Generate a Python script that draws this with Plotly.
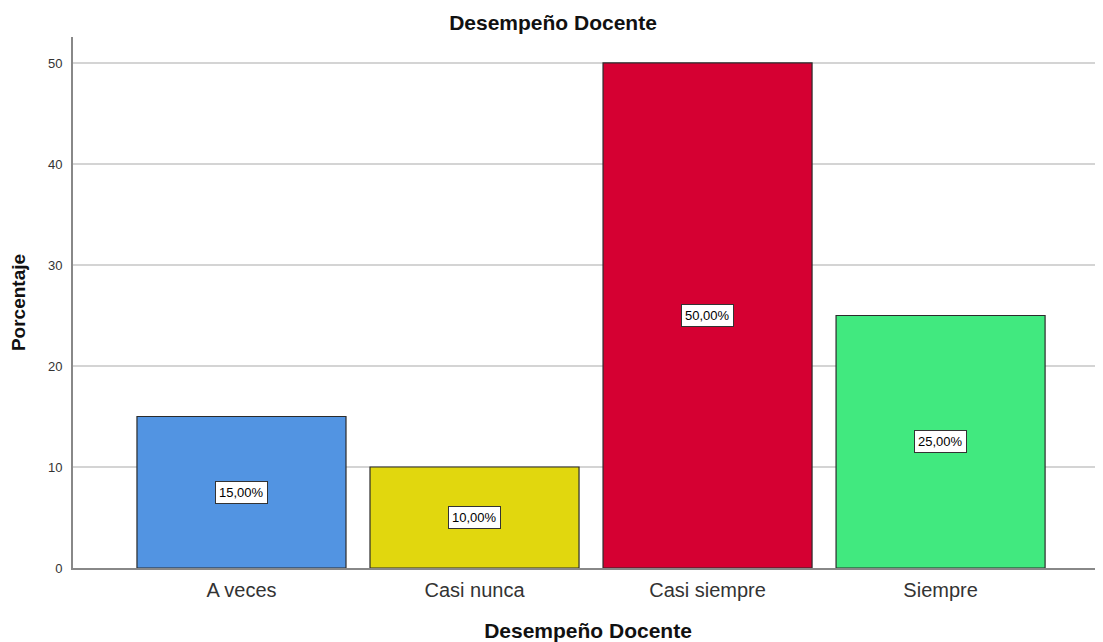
import plotly.graph_objects as go

categories = ["A veces", "Casi nunca", "Casi siempre", "Siempre"]
values = [15.0, 10.0, 50.0, 25.0]
labels = ["15,00%", "10,00%", "50,00%", "25,00%"]
colors = ["#5294E2", "#E1D70E", "#D50032", "#41E97F"]
y_ticks = [0, 10, 20, 30, 40, 50]

FONT = "Liberation Sans, Arial, sans-serif"

# page body has an 8px default margin; compensate so the plot sits where it should
W, H = 1095, 634

fig = go.Figure()
fig.add_trace(go.Bar(
    x=categories, y=values,
    marker=dict(color=colors, line=dict(color="#2b2b2b", width=1.2)),
    width=0.897,
    hoverinfo="skip",
))

for c, v, t in zip(categories, values, labels):
    fig.add_annotation(
        x=c, y=v / 2, text=t, showarrow=False,
        font=dict(family=FONT, size=13, color="#000"),
        bgcolor="white", bordercolor="#333", borderwidth=1, borderpad=3,
    )

fig.update_layout(
    width=W, height=H,
    margin=dict(l=65, r=0, t=29, b=74),
    paper_bgcolor="white", plot_bgcolor="white",
    showlegend=False,
    font=dict(family=FONT, color="#333"),
    title=dict(text="<b>Desempeño Docente</b>", x=(553 - 8) / W, xanchor="center",
               y=1 - 15 / H, yanchor="middle",
               font=dict(family=FONT, size=21, color="#111")),
)

fig.update_xaxes(
    range=[-0.723, 3.697],
    showline=True, linecolor="#888", linewidth=2,
    showgrid=False, ticks="", ticklabelstandoff=3,
    tickfont=dict(family=FONT, size=20, color="#333"),
    title=dict(text="<b>Desempeño Docente</b>", standoff=24,
               font=dict(family=FONT, size=21, color="#111")),
)
fig.update_yaxes(
    range=[0, 52.57], tickvals=y_ticks,
    showline=True, linecolor="#888", linewidth=2,
    showgrid=True, gridcolor="#d4d4d4", gridwidth=2,
    zeroline=False, ticks="", ticklabelstandoff=6,
    tickfont=dict(family=FONT, size=13, color="#333"),
    title=dict(text="<b>Porcentaje</b>", standoff=20,
               font=dict(family=FONT, size=19, color="#111")),
)

fig.write_html("out.html")
